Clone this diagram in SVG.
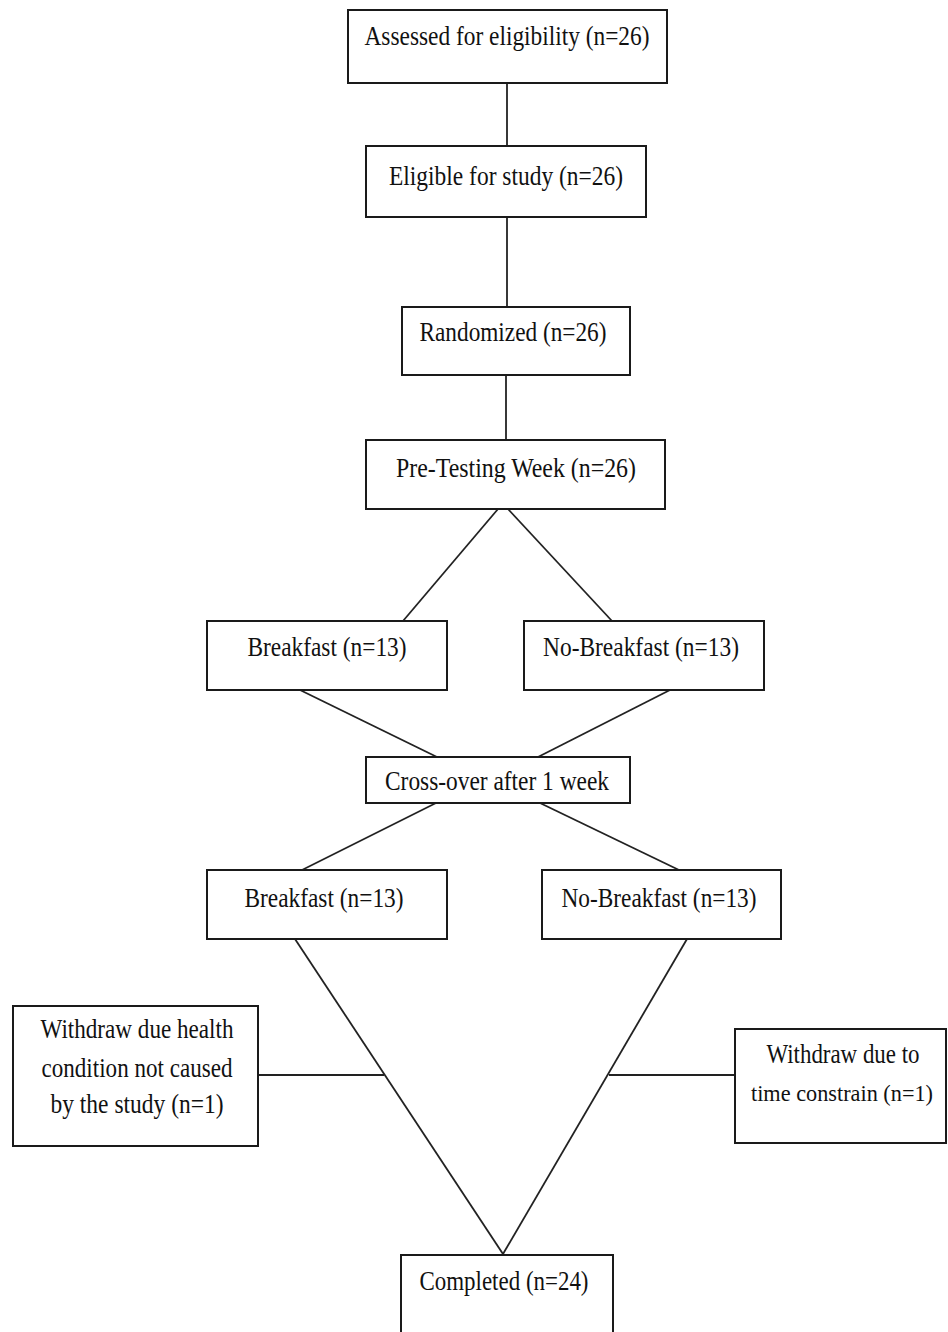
<svg xmlns="http://www.w3.org/2000/svg" width="948" height="1332" viewBox="0 0 948 1332">
<style>
.box{fill:#fff;stroke:#1a1a1a;stroke-width:2}
.ln{stroke:#222;stroke-width:1.8;fill:none}
.t{font-family:"Liberation Serif","Times New Roman",serif;font-size:27px;fill:#111;text-anchor:middle}
.s{font-size:24px}
</style>
<rect width="948" height="1332" fill="#fff"/>
<g id="connectors">
<line class="ln" x1="507" y1="83" x2="507" y2="146"/>
<line class="ln" x1="507" y1="217" x2="507" y2="307"/>
<line class="ln" x1="506" y1="375" x2="506" y2="440"/>
<line class="ln" x1="498" y1="509" x2="403" y2="621"/>
<line class="ln" x1="508" y1="509" x2="612" y2="621"/>
<line class="ln" x1="300" y1="690" x2="437" y2="757"/>
<line class="ln" x1="670" y1="690" x2="538" y2="757"/>
<line class="ln" x1="436" y1="803" x2="302" y2="870"/>
<line class="ln" x1="540" y1="803" x2="679" y2="870"/>
<line class="ln" x1="295" y1="939" x2="503" y2="1254"/>
<line class="ln" x1="687" y1="939" x2="503" y2="1254"/>
<line class="ln" x1="258" y1="1075" x2="384" y2="1075"/>
<line class="ln" x1="609" y1="1075" x2="735" y2="1075"/>
</g>
<g id="assessed">
<rect class="box" x="348" y="10" width="319" height="73"/>
<text class="t" x="507" y="45" textLength="285" lengthAdjust="spacingAndGlyphs">Assessed for eligibility (n=26)</text>
</g>
<g id="eligible">
<rect class="box" x="366" y="146" width="280" height="71"/>
<text class="t" x="506" y="185" textLength="234" lengthAdjust="spacingAndGlyphs">Eligible for study (n=26)</text>
</g>
<g id="randomized">
<rect class="box" x="402" y="307" width="228" height="68"/>
<text class="t" x="513" y="341" textLength="187" lengthAdjust="spacingAndGlyphs">Randomized (n=26)</text>
</g>
<g id="pretesting">
<rect class="box" x="366" y="440" width="299" height="69"/>
<text class="t" x="516" y="477" textLength="240" lengthAdjust="spacingAndGlyphs">Pre-Testing Week (n=26)</text>
</g>
<g id="breakfast1">
<rect class="box" x="207" y="621" width="240" height="69"/>
<text class="t" x="327" y="656" textLength="159" lengthAdjust="spacingAndGlyphs">Breakfast (n=13)</text>
</g>
<g id="nobreakfast1">
<rect class="box" x="524" y="621" width="240" height="69"/>
<text class="t" x="641" y="656" textLength="196" lengthAdjust="spacingAndGlyphs">No-Breakfast (n=13)</text>
</g>
<g id="crossover">
<rect class="box" x="366" y="757" width="264" height="46"/>
<text class="t" x="497" y="790" textLength="224" lengthAdjust="spacingAndGlyphs">Cross-over after 1 week</text>
</g>
<g id="breakfast2">
<rect class="box" x="207" y="870" width="240" height="69"/>
<text class="t" x="324" y="907" textLength="159" lengthAdjust="spacingAndGlyphs">Breakfast (n=13)</text>
</g>
<g id="nobreakfast2">
<rect class="box" x="542" y="870" width="239" height="69"/>
<text class="t" x="659" y="907" textLength="195" lengthAdjust="spacingAndGlyphs">No-Breakfast (n=13)</text>
</g>
<g id="withdraw-health">
<rect class="box" x="13" y="1006" width="245" height="140"/>
<text class="t" x="137" y="1038" textLength="193" lengthAdjust="spacingAndGlyphs">Withdraw due health</text>
<text class="t" x="137" y="1077" textLength="191" lengthAdjust="spacingAndGlyphs">condition not caused</text>
<text class="t" x="137" y="1113" textLength="173" lengthAdjust="spacingAndGlyphs">by the study (n=1)</text>
</g>
<g id="withdraw-time">
<rect class="box" x="735" y="1029" width="211" height="114"/>
<text class="t" x="843" y="1063" textLength="153" lengthAdjust="spacingAndGlyphs">Withdraw due to</text>
<text class="t s" x="842" y="1101" textLength="182" lengthAdjust="spacingAndGlyphs">time constrain (n=1)</text>
</g>
<g id="completed">
<rect class="box" x="401" y="1255" width="212" height="90"/>
<text class="t" x="504" y="1290" textLength="169" lengthAdjust="spacingAndGlyphs">Completed (n=24)</text>
</g>
</svg>
